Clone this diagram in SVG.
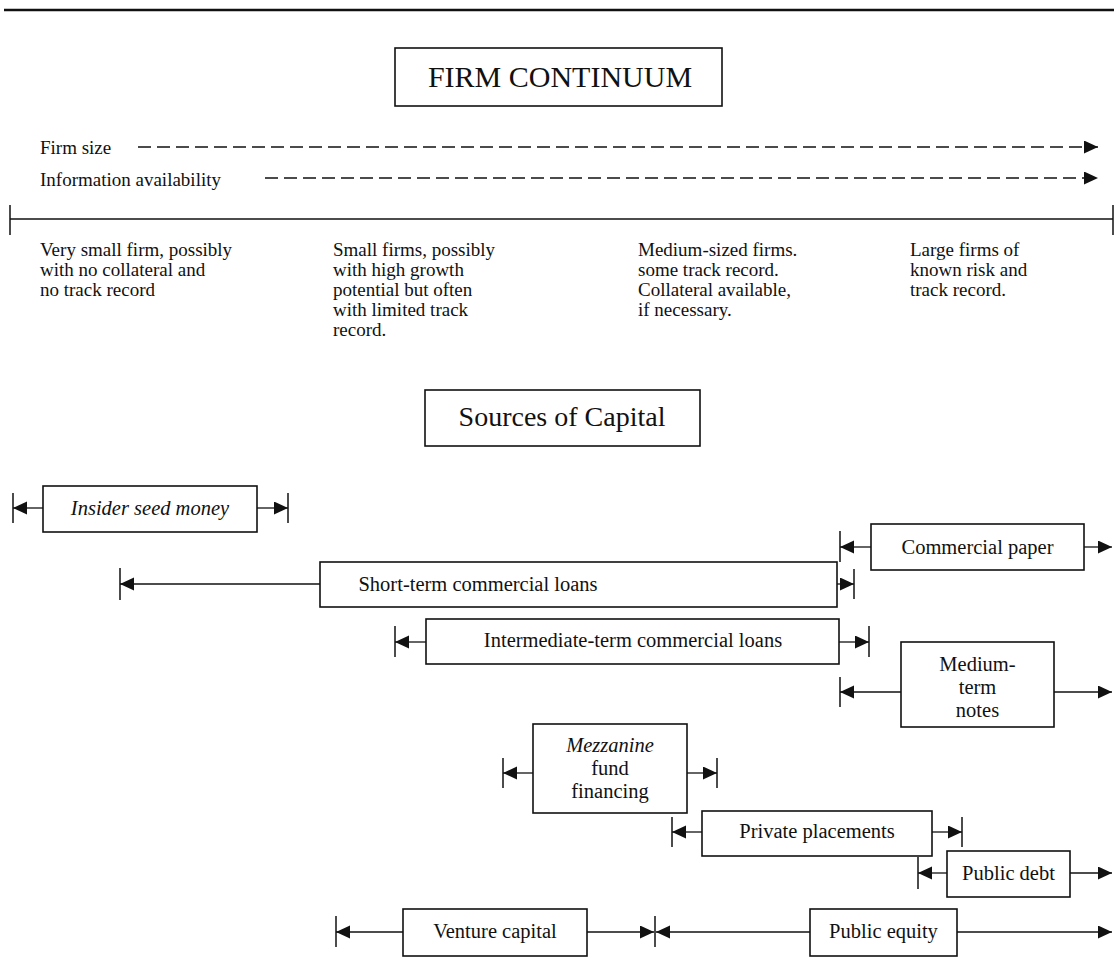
<svg xmlns="http://www.w3.org/2000/svg" width="1114" height="974" viewBox="0 0 1114 974">
<style>
text{font-family:"Liberation Serif","Times New Roman",serif;fill:#111}
.t{font-size:19px}
.c{font-size:20.5px;text-anchor:middle}
.i{font-style:italic}
.box{fill:#fff;stroke:#111;stroke-width:1.6}
.ln{stroke:#111;stroke-width:1.3;fill:none}
.bar{stroke:#111;stroke-width:1.5}
.dash{stroke:#111;stroke-width:1.3;stroke-dasharray:13 6;fill:none}
</style>
<defs>
<marker id="ah" markerUnits="userSpaceOnUse" markerWidth="15" markerHeight="14" refX="14" refY="6.5" orient="auto">
<path d="M0,0 L14,6.5 L0,13 z" fill="#111"/>
</marker>
</defs>
<rect width="1114" height="974" fill="#fff"/>
<line x1="4" y1="10" x2="1114" y2="10" stroke="#111" stroke-width="2.5"/>

<g id="title">
<rect class="box" x="395" y="48" width="327" height="58"/>
<text x="560" y="87" font-size="30" text-anchor="middle">FIRM CONTINUUM</text>
</g>

<g id="scales">
<text class="t" x="40" y="154">Firm size</text>
<text class="t" x="40" y="186">Information availability</text>
</g>

<g id="continuum">
<line class="ln" x1="10" y1="219" x2="1113" y2="219"/>
<line class="bar" x1="10" y1="205" x2="10" y2="235"/>
<line class="bar" x1="1113" y1="205" x2="1113" y2="235"/>
<text class="t" x="40" y="256">Very small firm, possibly<tspan x="40" dy="20">with no collateral and</tspan><tspan x="40" dy="20">no track record</tspan></text>
<text class="t" x="333" y="256">Small firms, possibly<tspan x="333" dy="20">with high growth</tspan><tspan x="333" dy="20">potential but often</tspan><tspan x="333" dy="20">with limited track</tspan><tspan x="333" dy="20">record.</tspan></text>
<text class="t" x="638" y="256">Medium-sized firms.<tspan x="638" dy="20">some track record.</tspan><tspan x="638" dy="20">Collateral available,</tspan><tspan x="638" dy="20">if necessary.</tspan></text>
<text class="t" x="910" y="256">Large firms of<tspan x="910" dy="20">known risk and</tspan><tspan x="910" dy="20">track record.</tspan></text>
</g>

<g id="sources-title">
<rect class="box" x="425" y="390" width="275" height="56"/>
<text x="562" y="426" font-size="28" text-anchor="middle">Sources of Capital</text>
</g>

<g id="connectors">
<line class="dash" x1="138" y1="147" x2="1098" y2="147" marker-end="url(#ah)"/>
<line class="dash" x1="265" y1="178" x2="1098" y2="178" marker-end="url(#ah)"/>
<!-- insider -->
<line class="ln" x1="43" y1="508" x2="13" y2="508" marker-end="url(#ah)"/>
<line class="bar" x1="13" y1="493" x2="13" y2="523"/>
<line class="ln" x1="257" y1="508" x2="288" y2="508" marker-end="url(#ah)"/>
<line class="bar" x1="288" y1="493" x2="288" y2="523"/>
<!-- commercial paper -->
<line class="ln" x1="871" y1="547" x2="840" y2="547" marker-end="url(#ah)"/>
<line class="bar" x1="840" y1="531" x2="840" y2="562"/>
<line class="ln" x1="1084" y1="547" x2="1112" y2="547" marker-end="url(#ah)"/>
<!-- short-term -->
<line class="ln" x1="320" y1="584" x2="120" y2="584" marker-end="url(#ah)"/>
<line class="bar" x1="120" y1="568" x2="120" y2="600"/>
<line class="ln" x1="837" y1="584" x2="854" y2="584" marker-end="url(#ah)"/>
<line class="bar" x1="854" y1="569" x2="854" y2="599"/>
<!-- intermediate -->
<line class="ln" x1="426" y1="642" x2="395" y2="642" marker-end="url(#ah)"/>
<line class="bar" x1="395" y1="626" x2="395" y2="657"/>
<line class="ln" x1="839" y1="642" x2="869" y2="642" marker-end="url(#ah)"/>
<line class="bar" x1="869" y1="626" x2="869" y2="657"/>
<!-- medium-term notes -->
<line class="ln" x1="901" y1="692" x2="840" y2="692" marker-end="url(#ah)"/>
<line class="bar" x1="840" y1="677" x2="840" y2="707"/>
<line class="ln" x1="1054" y1="692" x2="1112" y2="692" marker-end="url(#ah)"/>
<!-- mezzanine -->
<line class="ln" x1="533" y1="773" x2="503" y2="773" marker-end="url(#ah)"/>
<line class="bar" x1="503" y1="758" x2="503" y2="788"/>
<line class="ln" x1="687" y1="773" x2="717" y2="773" marker-end="url(#ah)"/>
<line class="bar" x1="717" y1="758" x2="717" y2="788"/>
<!-- private placements -->
<line class="ln" x1="702" y1="832" x2="672" y2="832" marker-end="url(#ah)"/>
<line class="bar" x1="672" y1="817" x2="672" y2="847"/>
<line class="ln" x1="932" y1="832" x2="962" y2="832" marker-end="url(#ah)"/>
<line class="bar" x1="962" y1="817" x2="962" y2="847"/>
<!-- public debt -->
<line class="ln" x1="947" y1="873" x2="918" y2="873" marker-end="url(#ah)"/>
<line class="bar" x1="918" y1="857" x2="918" y2="889"/>
<line class="ln" x1="1070" y1="873" x2="1112" y2="873" marker-end="url(#ah)"/>
<!-- venture -->
<line class="ln" x1="403" y1="932" x2="336" y2="932" marker-end="url(#ah)"/>
<line class="bar" x1="336" y1="916" x2="336" y2="947"/>
<line class="ln" x1="587" y1="932" x2="654" y2="932" marker-end="url(#ah)"/>
<line class="bar" x1="655" y1="916" x2="655" y2="947"/>
<!-- public equity -->
<line class="ln" x1="810" y1="932" x2="656" y2="932" marker-end="url(#ah)"/>
<line class="ln" x1="957" y1="932" x2="1112" y2="932" marker-end="url(#ah)"/>
</g>

<g id="insider">
<rect class="box" x="43" y="486" width="214" height="46"/>
<text class="c i" x="150" y="515">Insider seed money</text>
</g>
<g id="commercial-paper">
<rect class="box" x="871" y="524" width="213" height="46"/>
<text class="c" x="977.5" y="554">Commercial paper</text>
</g>
<g id="short-term">
<rect class="box" x="320" y="562" width="517" height="45"/>
<text class="c" x="478" y="591" font-size="20">Short-term commercial loans</text>
</g>
<g id="intermediate-term">
<rect class="box" x="426" y="619" width="413" height="45"/>
<text class="c" x="633" y="647">Intermediate-term commercial loans</text>
</g>
<g id="medium-term-notes">
<rect class="box" x="901" y="642" width="153" height="85"/>
<text class="c" x="977.5" y="671">Medium-<tspan x="977.5" dy="23">term</tspan><tspan x="977.5" dy="23">notes</tspan></text>
</g>
<g id="mezzanine">
<rect class="box" x="533" y="724" width="154" height="89"/>
<text class="c i" x="610" y="752">Mezzanine<tspan x="610" dy="23" font-style="normal">fund</tspan><tspan x="610" dy="23" font-style="normal">financing</tspan></text>
</g>
<g id="private-placements">
<rect class="box" x="702" y="811" width="230" height="45"/>
<text class="c" x="817" y="838">Private placements</text>
</g>
<g id="public-debt">
<rect class="box" x="947" y="851" width="123" height="46"/>
<text class="c" x="1008.5" y="880">Public debt</text>
</g>
<g id="venture-capital">
<rect class="box" x="403" y="909" width="184" height="47"/>
<text class="c" x="495" y="938">Venture capital</text>
</g>
<g id="public-equity">
<rect class="box" x="810" y="909" width="147" height="47"/>
<text class="c" x="883.5" y="938">Public equity</text>
</g>
</svg>
